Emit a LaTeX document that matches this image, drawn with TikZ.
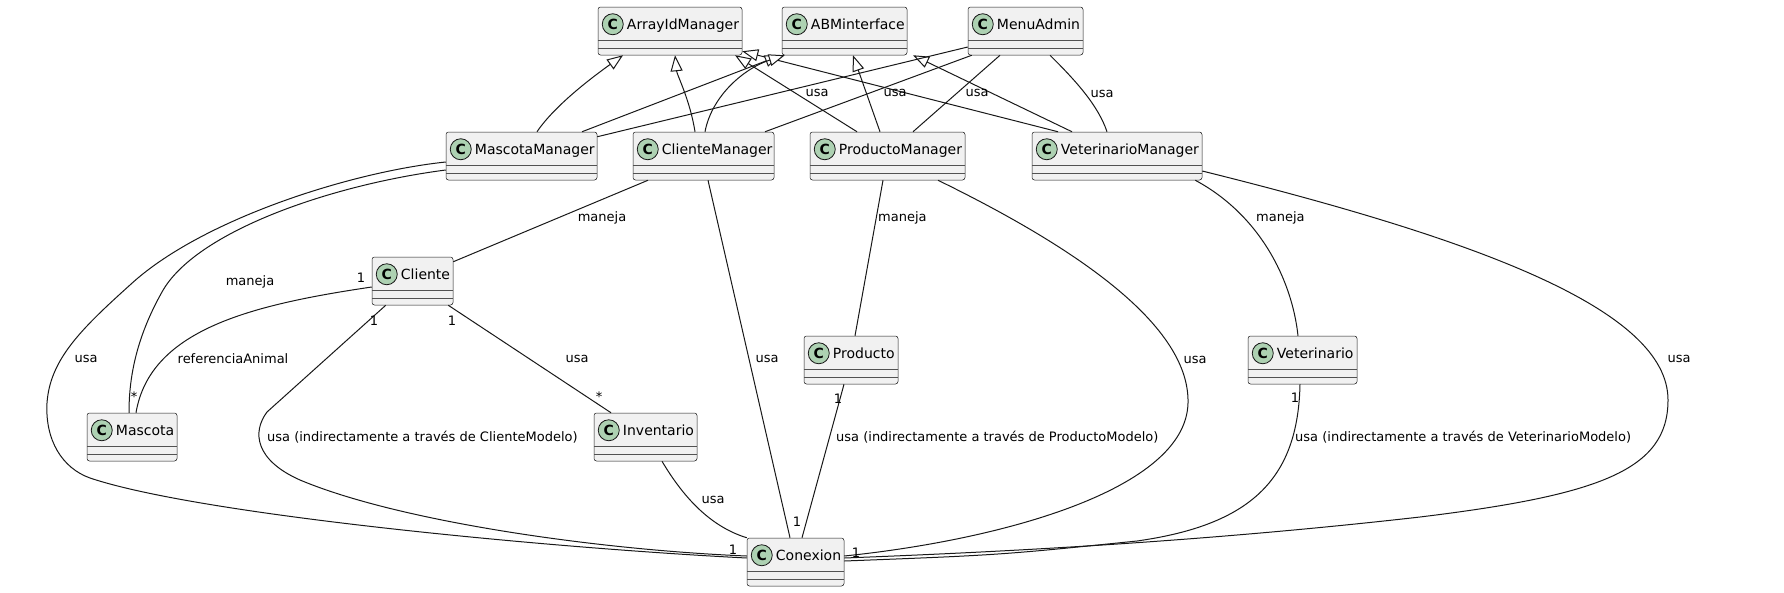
\documentclass[tikz,border=0pt]{standalone}
\usepackage{fontspec}
\setmainfont{DejaVu Sans}
\usetikzlibrary{arrows.meta}
\definecolor{boxfill}{HTML}{F1F1F1}
\definecolor{inkline}{HTML}{181818}
\definecolor{iconfill}{HTML}{ADD1B2}

\begin{document}
\begin{tikzpicture}[%
x=1pt, y=-1pt,
classbox/.style={draw=inkline, line width=0.5pt, fill=boxfill, rounded corners=2.5pt, minimum height=48pt, inner sep=0pt},
sepline/.style={draw=inkline!75, line width=0.5pt},
cicon/.style={circle, draw=inkline, line width=0.8pt, fill=iconfill, minimum size=21pt, inner sep=0pt, font=\fontsize{14}{14}\selectfont\bfseries},
cname/.style={anchor=base west, inner sep=0pt, font=\fontsize{14}{16}\selectfont},
rel/.style={draw=inkline, line width=1pt},
isa/.style={rel, -{Triangle[length=16pt, width=12pt, fill=white, line width=1pt]}},
lbl/.style={inner sep=0pt, font=\fontsize{13}{15}\selectfont},
]
\useasboundingbox (0,0) rectangle (1784,592);
%% classes;
\node[classbox, minimum width=144pt] (aim) at (670,31) {};
\node[classbox, minimum width=125pt] (abm) at (844.5,31) {};
\node[classbox, minimum width=115pt] (menu) at (1025.5,31) {};
\node[classbox, minimum width=151pt] (mmgr) at (521.5,156) {};
\node[classbox, minimum width=141pt] (cmgr) at (703.5,156) {};
\node[classbox, minimum width=155pt] (pmgr) at (887.5,156) {};
\node[classbox, minimum width=170pt] (vmgr) at (1117,156) {};
\node[classbox, minimum width=81pt] (cli) at (412.5,281) {};
\node[classbox, minimum width=90pt] (masc) at (132,437) {};
\node[classbox, minimum width=103pt] (inv) at (645.5,437) {};
\node[classbox, minimum width=94pt] (prod) at (851,360) {};
\node[classbox, minimum width=109pt] (vet) at (1302.5,360) {};
\node[classbox, minimum width=97pt] (con) at (795.5,562) {};
\foreach \nm/\txt in {aim/ArrayIdManager, abm/ABMinterface, menu/MenuAdmin,
  mmgr/MascotaManager, cmgr/ClienteManager, pmgr/ProductoManager,
  vmgr/VeterinarioManager, cli/Cliente, masc/Mascota, inv/Inventario,
  prod/Producto, vet/Veterinario, con/Conexion}{
  \draw[sepline] ([yshift=-33.5pt]\nm.north west) -- ([yshift=-33.5pt]\nm.north east);
  \draw[sepline] ([yshift=-41pt]\nm.north west) -- ([yshift=-41pt]\nm.north east);
  \node[cicon] (\nm-c) at ([xshift=15pt,yshift=-17.5pt]\nm.north west) {C};
  \node[cname] (\nm-t) at ([xshift=29pt,yshift=-22.5pt]\nm.north west) {\txt};
}
%% inheritance;
\draw[isa] ([xshift=15.5pt]mmgr.north) .. controls (555,105) and (594,76) .. ([xshift=-47pt]aim.south);
\draw[isa] ([xshift=-8.5pt]cmgr.north) .. controls (690,100) and (677,75) .. ([xshift=5pt]aim.south);
\draw[isa] ([xshift=-30.5pt]pmgr.north) -- ([xshift=65pt]aim.south);
\draw[isa] ([xshift=-59pt]vmgr.north) -- ([yshift=4pt]aim.south east);
\draw[isa] ([xshift=60.5pt]mmgr.north) -- ([xshift=-1pt]abm.south west);
\draw[isa] ([xshift=1.5pt]cmgr.north) .. controls (712,95) and (745,68) .. ([xshift=3pt]abm.south west);
\draw[isa] ([xshift=-7.5pt]pmgr.north) -- ([xshift=8.5pt]abm.south);
\draw[isa] ([xshift=-45pt]vmgr.north) -- ([xshift=68.5pt]abm.south);
%% menu;
\draw[rel] ([yshift=-16pt]menu.west) -- ([yshift=-5pt]mmgr.north east);
\draw[rel] ([xshift=4pt]menu.south west) -- ([xshift=61.5pt]cmgr.north);
\draw[rel] ([xshift=-25.5pt]menu.south) -- ([xshift=25.5pt]pmgr.north);
\draw[rel] ([xshift=24.5pt]menu.south) .. controls (1075,80) and (1098,105) .. ([xshift=-10pt]vmgr.north);
\node[lbl] (u1) at (817,93) {usa};
\node[lbl] (u2) at (895,93) {usa};
\node[lbl] (u3) at (977,93) {usa};
\node[lbl] (u4) at (1102,94) {usa};
%% mascota;
\draw[rel] ([yshift=-14pt]mmgr.west) .. controls (330,185) and (195,232) .. (162,292) .. controls (135,340) and (129,380) .. ([xshift=-3pt]masc.north);
\draw[rel] ([yshift=-6pt]mmgr.west) .. controls (350,172) and (200,220) .. (130,285) .. controls (80,330) and (50,360) .. (47,403) .. controls (45,440) and (62,468) .. (90,478) .. controls (200,515) and (550,548) .. ([yshift=4pt]con.west);
\draw[rel] ([yshift=-6pt]cli.west) .. controls (250,305) and (150,330) .. ([xshift=4pt]masc.north);
\node[lbl] (m1) at (250,282) {maneja};
\node[lbl] (u5) at (86,359) {usa};
\node[lbl] (ra) at (233,359) {referenciaAnimal};
\node[lbl] (k1) at (361,278) {1};
\node[lbl] (k2) at (134,397) {*};
%% cliente;
\draw[rel] ([xshift=-55.5pt]cmgr.south) -- ([yshift=-5pt]cli.north east);
\draw[rel] ([xshift=-5pt]cli.south east) -- ([xshift=-34.5pt]inv.north);
\draw[rel] ([xshift=14pt]cli.south west) -- (267,412) .. controls (252,432) and (255,460) .. (300,480) .. controls (400,522) and (600,550) .. ([yshift=6pt]con.west);
\draw[rel] ([xshift=4.5pt]cmgr.south) -- ([xshift=-5.5pt]con.north);
\draw[rel] ([xshift=16.5pt]inv.south) .. controls (685,500) and (712,527) .. (con.north west);
\node[lbl] (m2) at (602,218) {maneja};
\node[lbl] (u6) at (577,359) {usa};
\node[lbl] (u7) at (767,359) {usa};
\node[lbl] (u8) at (713,500) {usa};
\node[lbl, anchor=west] (ic) at (267,437) {usa (indirectamente a través de ClienteModelo)};
\node[lbl] (k3) at (374,321) {1};
\node[lbl] (k4) at (452,321) {1};
\node[lbl] (k5) at (599,397) {*};
\node[lbl] (k6) at (733,550) {1};
%% producto;
\draw[rel] ([xshift=-4.5pt]pmgr.south) -- ([xshift=4pt]prod.north);
\draw[rel] ([xshift=-7pt]prod.south) -- ([xshift=6.5pt]con.north);
\draw[rel] ([xshift=50.5pt]pmgr.south) .. controls (1060,240) and (1190,320) .. (1188,403) .. controls (1186,490) and (1000,540) .. ([yshift=6pt]con.east);
\node[lbl, anchor=west] (m3) at (878,218) {maneja};
\node[lbl] (u9) at (1195,360) {usa};
\node[lbl, anchor=west] (ip) at (836,437) {usa (indirectamente a través de ProductoModelo)};
\node[lbl] (k7) at (838,399) {1};
\node[lbl] (k8) at (797,522) {1};
\node[lbl] (k9) at (856,553) {1};
%% veterinario;
\draw[rel] ([xshift=-7pt]vmgr.south east) .. controls (1260,215) and (1292,280) .. ([xshift=-4.5pt]vet.north);
\draw[rel] ([xshift=-2.5pt]vet.south) .. controls (1298,480) and (1250,525) .. (1137,541) .. controls (1000,555) .. ([yshift=1pt]con.east);
\draw[rel] ([yshift=-15pt]vmgr.east) .. controls (1480,240) and (1668,310) .. (1668,400) .. controls (1668,470) and (1600,495) .. (1420,517) .. controls (1200,542) and (1000,552) .. ([yshift=4pt]con.east);
\node[lbl, anchor=west] (m4) at (1256,218) {maneja};
\node[lbl] (u10) at (1679,359) {usa};
\node[lbl, anchor=west] (iv) at (1295,437) {usa (indirectamente a través de VeterinarioModelo)};
\node[lbl] (k10) at (1295,398) {1};
\end{tikzpicture}
\end{document}
